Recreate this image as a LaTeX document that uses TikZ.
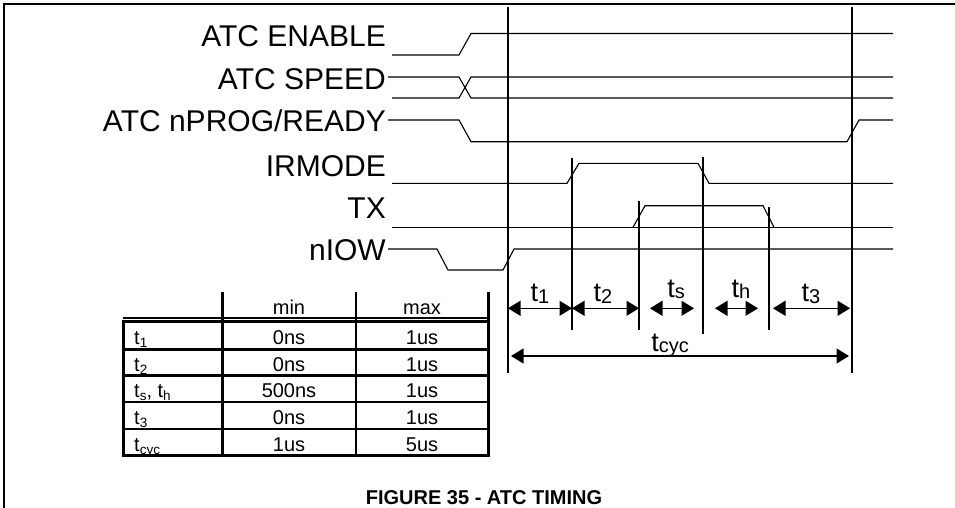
\documentclass[tikz,border=0pt]{standalone}
\usepackage{fontspec}
\setmainfont{Liberation Sans}
\usetikzlibrary{arrows.meta}
\newcommand{\fsz}[1]{\fontsize{#1}{#1}\selectfont}
\newcommand{\bigsub}[1]{\raisebox{-2pt}{\fsz{20}#1}}
\newcommand{\tabsub}[1]{\raisebox{-3pt}{\fsz{13.5}#1}}
\begin{document}
\begin{tikzpicture}[x=1pt,y=-1pt,
  sig/.style={line width=1.1pt,line join=miter},
  vline/.style={line width=1.1pt},
  dim/.style={line width=1.2pt,{Triangle[length=12.5pt,width=15pt]}-{Triangle[length=12.5pt,width=15pt]}},
  tline/.style={line width=2.8pt,line cap=rect},
  siglabel/.style={anchor=base east,inner sep=0pt,font=\fsz{30}},
  tlabel/.style={anchor=base,inner sep=0pt,font=\fsz{27}},
  cell/.style={anchor=base,inner sep=0pt,font=\fsz{20}},
  cellw/.style={anchor=base west,inner sep=0pt,font=\fsz{20}}]
\useasboundingbox (0,0) rectangle (955,508);
\fill[white] (0,0) rectangle (955,508);
% frame
\draw[line width=2.7pt] (4,508) -- (4,4) -- (955,4);
% signal labels
\node[siglabel] (lEn) at (386,47) {ATC ENABLE};
\node[siglabel] (lSp) at (386,90) {ATC SPEED};
\node[siglabel] (lPr) at (386,131.7) {ATC nPROG/READY};
\node[siglabel] (lIr) at (386,176.7) {IRMODE};
\node[siglabel] (lTx) at (386,218.3) {TX};
\node[siglabel] (lNi) at (386,260) {nIOW};
% waveforms
\draw[sig] (392,55) -- (459,55) -- (471,33.5) -- (893,33.5);
\draw[sig] (388,77) -- (459,77) -- (471,98) -- (893,98);
\draw[sig] (392,98) -- (459,98) -- (471,77) -- (893,77);
\draw[sig] (388,120) -- (459,120) -- (471,141.7) -- (847,141.7) -- (859,120) -- (893,120);
\draw[sig] (392,183.3) -- (567,183.3) -- (579,163.3) -- (698,163.3) -- (709,183.3) -- (893,183.3);
\draw[sig] (392,227.3) -- (893,227.3);
\draw[sig] (633,227.3) -- (645,205.7) -- (763,205.7) -- (774,227.3);
\draw[sig] (388,249) -- (437,249) -- (448,270) -- (503,270) -- (514,249) -- (893,249);
% timing verticals
\coordinate (v1t) at (508,7);   \coordinate (v1b) at (508,373);
\coordinate (v2t) at (572,158); \coordinate (v2b) at (572,330);
\coordinate (v3t) at (639,201); \coordinate (v3b) at (639,330);
\coordinate (v4t) at (703,157); \coordinate (v4b) at (703,334);
\coordinate (v5t) at (769,207); \coordinate (v5b) at (769,330);
\coordinate (v6t) at (852,7);   \coordinate (v6b) at (852,373);
\foreach \v in {1,...,6} {\draw[vline] (v\v t) -- (v\v b);}
% dimension arrows
\coordinate (arow) at (0,308.3);
\coordinate (tsl) at (650,308.3); \coordinate (tsr) at (694,308.3);
\coordinate (thl) at (715,308.3); \coordinate (thr) at (758,308.3);
\coordinate (t3l) at (773,308.3); \coordinate (t3r) at (850,308.3);
\coordinate (cyl) at (511,356);   \coordinate (cyr) at (849,356);
\draw[dim] (v1t |- arow) -- (v2t |- arow);
\draw[dim] (v2t |- arow) -- (v3t |- arow);
\draw[dim] (tsl) -- (tsr);
\draw[dim] (thl) -- (thr);
\draw[dim] (t3l) -- (t3r);
\draw[dim] (cyl) -- (cyr);
\node[tlabel] (n1) at (540,301.7) {t\bigsub{1}};
\node[tlabel] (n2) at (603,301.7) {t\bigsub{2}};
\node[tlabel] (ns) at (676,297.5) {t\raisebox{-0.5pt}{\fsz{20}s}};
\node[tlabel] (nh) at (741,297.5) {t\raisebox{-0.5pt}{\fsz{20}h}};
\node[tlabel] (n3) at (811,301.7) {t\bigsub{3}};
\node[tlabel] (nc) at (670,351) {t\raisebox{-1pt}{\fsz{20}cyc}};
% table
\draw[line width=1.4pt] (123.3,317.8) -- (488.3,317.8);
\foreach \y in {321.5,349.3,375.5,402,429,455.7} {\draw[tline] (123.3,\y) -- (488.3,\y);}
\draw[tline] (123.3,321.5) -- (123.3,455.7);
\foreach \x in {222.7,356,488.3} {\draw[tline] (\x,293) -- (\x,455.7);}
\node[cell] (hmin) at (289,314) {min};
\node[cell] (hmax) at (422,314) {max};
\node[cellw] (r1) at (134,344.5) {t\tabsub{1}};
\node[cellw] (r2) at (134,371) {t\tabsub{2}};
\node[cellw] (r3) at (134,397.5) {t\tabsub{s}, t\tabsub{h}};
\node[cellw] (r4) at (134,424.5) {t\tabsub{3}};
\node[cellw] (r5) at (134,451) {t\tabsub{cyc}};
\node[cell] (a1) at (289,344.5) {0ns};
\node[cell] (b1) at (422,344.5) {1us};
\node[cell] (a2) at (289,371) {0ns};
\node[cell] (b2) at (422,371) {1us};
\node[cell] (a3) at (289,397.5) {500ns};
\node[cell] (b3) at (422,397.5) {1us};
\node[cell] (a4) at (289,424.5) {0ns};
\node[cell] (b4) at (422,424.5) {1us};
\node[cell] (a5) at (289,451) {1us};
\node[cell] (b5) at (422,451) {5us};
% caption
\node[anchor=base,inner sep=0pt,font=\fsz{20}\bfseries] (cap) at (484,504) {FIGURE 35 - ATC TIMING};
\end{tikzpicture}
\end{document}
